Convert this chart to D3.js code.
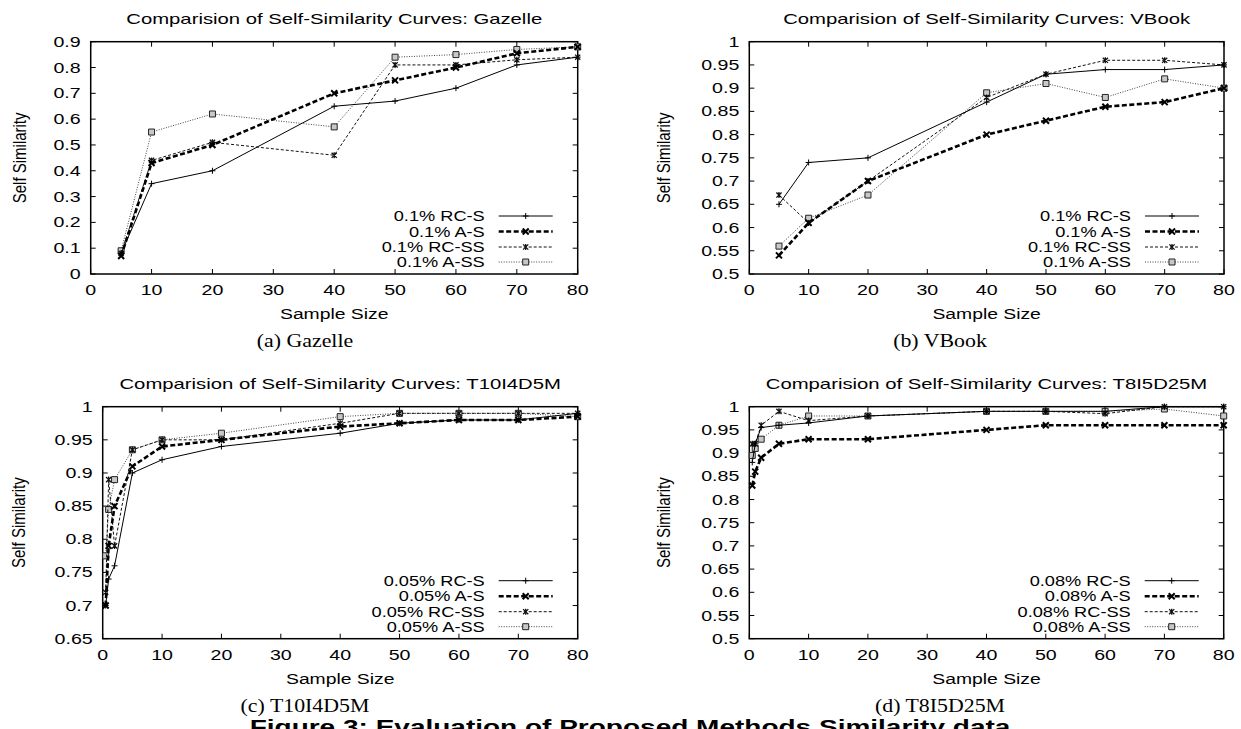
<!DOCTYPE html>
<html>
<head>
<meta charset="utf-8">
<script src="https://cdn.jsdelivr.net/npm/d3@7"></script>
<style>
    body { margin: 0; background: #fff; }
    svg { display: block; }
</style>
</head>
<body>
<div id="chart"></div>
<script>
// ---------- data ----------
const sampleTicks = [0, 10, 20, 30, 40, 50, 60, 70, 80];

const gazelleSize = [5, 10, 20, 40, 50, 60, 70, 80];
const gazelleRCS  = [0.08, 0.35, 0.40, 0.65, 0.67, 0.72, 0.81, 0.84];
const gazelleAS   = [0.07, 0.43, 0.50, 0.70, 0.75, 0.80, 0.855, 0.88];
const gazelleRCSS = [0.08, 0.44, 0.51, 0.46, 0.81, 0.81, 0.83, 0.84];
const gazelleASS  = [0.09, 0.55, 0.62, 0.57, 0.84, 0.85, 0.87, 0.88];
const gazelleYTicks = [0, 0.1, 0.2, 0.3, 0.4, 0.5, 0.6, 0.7, 0.8, 0.9];

const vbookSize = [5, 10, 20, 40, 50, 60, 70, 80];
const vbookRCS  = [0.65, 0.74, 0.75, 0.87, 0.93, 0.94, 0.94, 0.95];
const vbookAS   = [0.54, 0.61, 0.70, 0.80, 0.83, 0.86, 0.87, 0.90];
const vbookRCSS = [0.67, 0.61, 0.70, 0.88, 0.93, 0.96, 0.96, 0.95];
const vbookASS  = [0.56, 0.62, 0.67, 0.89, 0.91, 0.88, 0.92, 0.90];
const vbookYTicks = [0.5, 0.55, 0.6, 0.65, 0.7, 0.75, 0.8, 0.85, 0.9, 0.95, 1];

const t10Size = [0.5, 1, 2, 5, 10, 20, 40, 50, 60, 70, 80];
const t10RCS  = [0.70, 0.74, 0.76, 0.90, 0.92, 0.94, 0.96, 0.975, 0.98, 0.98, 0.99];
const t10AS   = [0.70, 0.79, 0.85, 0.91, 0.94, 0.95, 0.97, 0.975, 0.98, 0.98, 0.985];
const t10RCSS = [0.72, 0.89, 0.79, 0.935, 0.95, 0.95, 0.975, 0.99, 0.99, 0.99, 0.99];
const t10ASS  = [0.775, 0.845, 0.89, 0.935, 0.95, 0.96, 0.985, 0.99, 0.99, 0.99, 0.985];
const t10YTicks = [0.65, 0.7, 0.75, 0.8, 0.85, 0.9, 0.95, 1];

const t8Size = [0.5, 1, 2, 5, 10, 20, 40, 50, 60, 70, 80];
const t8RCS  = [0.88, 0.92, 0.955, 0.96, 0.965, 0.98, 0.99, 0.99, 0.99, 1.0, 1.0];
const t8AS   = [0.83, 0.86, 0.89, 0.92, 0.93, 0.93, 0.95, 0.96, 0.96, 0.96, 0.96];
const t8RCSS = [0.92, 0.92, 0.96, 0.99, 0.97, 0.98, 0.99, 0.99, 0.985, 1.0, 1.0];
const t8ASS  = [0.895, 0.91, 0.93, 0.96, 0.98, 0.98, 0.99, 0.99, 0.99, 0.995, 0.98];
const t8YTicks = [0.5, 0.55, 0.6, 0.65, 0.7, 0.75, 0.8, 0.85, 0.9, 0.95, 1];

const seriesNames = ["RC-S", "A-S", "RC-SS", "A-SS"];

// ---------- layout ----------
const width = 1241, height = 729;
const gnuFont = "'Liberation Sans', Arial, Helvetica, sans-serif";
const serifFont = "'Liberation Serif', 'Times New Roman', serif";

const panels = [
    { title: "Comparision of Self-Similarity Curves: Gazelle", caption: "(a) Gazelle", pct: "0.1%",
      size: gazelleSize, series: [gazelleRCS, gazelleAS, gazelleRCSS, gazelleASS], yTicks: gazelleYTicks,
      left: 90.7, right: 577.7, top: 41.7, bottom: 274, ylabX: 26, capX: 305 },
    { title: "Comparision of Self-Similarity Curves: VBook", caption: "(b) VBook", pct: "0.1%",
      size: vbookSize, series: [vbookRCS, vbookAS, vbookRCSS, vbookASS], yTicks: vbookYTicks,
      left: 749.3, right: 1224, top: 41.7, bottom: 274, ylabX: 670, capX: 940 },
    { title: "Comparision of Self-Similarity Curves: T10I4D5M", caption: "(c) T10I4D5M", pct: "0.05%",
      size: t10Size, series: [t10RCS, t10AS, t10RCSS, t10ASS], yTicks: t10YTicks,
      left: 102.7, right: 577.7, top: 406.7, bottom: 638.7, ylabX: 25, capX: 305 },
    { title: "Comparision of Self-Similarity Curves: T8I5D25M", caption: "(d) T8I5D25M", pct: "0.08%",
      size: t8Size, series: [t8RCS, t8AS, t8RCSS, t8ASS], yTicks: t8YTicks,
      left: 749.3, right: 1223.7, top: 406.7, bottom: 638.7, ylabX: 670, capX: 940 }
];

// line / point style per series (same order as seriesNames)
const styles = [
    { width: 1.0, dash: null,      color: "#000", marker: "plus" },
    { width: 2.6, dash: "5,2.5",   color: "#000", marker: "cross" },
    { width: 1.0, dash: "3,2",     color: "#111", marker: "star" },
    { width: 1.0, dash: "1,1.5",   color: "#444", marker: "box" }
];
const drawOrder = [3, 2, 0, 1];

const svg = d3.select("#chart")
    .append("svg")
    .attr("width", width)
    .attr("height", height);

// text stretched horizontally, like the gnuplot output
function stretchText(g, x, y, str, size, sx, anchor) {
    return g.append("text")
        .attr("transform", "translate(" + x + "," + y + ") scale(" + sx + ",1)")
        .attr("text-anchor", anchor)
        .style("font-family", gnuFont)
        .style("font-size", size + "px")
        .style("fill", "#000")
        .text(str);
}

function markerPath(type, x, y) {
    var s = 3;
    if (type == "plus") {
        return "M" + (x - s) + "," + y + "H" + (x + s) + "M" + x + "," + (y - s) + "V" + (y + s);
    }
    if (type == "cross") {
        return "M" + (x - s) + "," + (y - s) + "L" + (x + s) + "," + (y + s) +
            "M" + (x - s) + "," + (y + s) + "L" + (x + s) + "," + (y - s);
    }
    if (type == "star") {
        var t = 2.6;
        return "M" + (x - t) + "," + (y - t) + "L" + (x + t) + "," + (y + t) +
            "M" + (x - t) + "," + (y + t) + "L" + (x + t) + "," + (y - t) +
            "M" + x + "," + (y - s) + "V" + (y + s);
    }
    return "M" + (x - 3) + "," + (y - 3) + "h6v6h-6z";
}

function drawMarker(g, type, x, y, st) {
    g.append("path")
        .attr("d", markerPath(type, x, y))
        .attr("fill", type == "box" ? "#c8c8c8" : "none")
        .attr("stroke", type == "box" ? "#222" : st.color)
        .attr("stroke-width", type == "cross" ? 2 : (type == "star" ? 1.3 : 1));
}

const fmt = function (d) { return String(+d.toFixed(2)); };

panels.forEach(function (p) {
    var g = svg.append("g");

    var x = d3.scaleLinear().domain([0, 80]).range([p.left, p.right]);
    var y = d3.scaleLinear()
        .domain([p.yTicks[0], p.yTicks[p.yTicks.length - 1]])
        .range([p.bottom, p.top]);

    // inward ticks on all four sides
    var tickLen = 5;
    var axisG = g.append("g").attr("stroke", "#000").attr("stroke-width", 1);
    sampleTicks.forEach(function (t) {
        axisG.append("line").attr("x1", x(t)).attr("x2", x(t))
            .attr("y1", p.bottom).attr("y2", p.bottom - tickLen);
        axisG.append("line").attr("x1", x(t)).attr("x2", x(t))
            .attr("y1", p.top).attr("y2", p.top + tickLen);
    });
    p.yTicks.forEach(function (t) {
        axisG.append("line").attr("x1", p.left).attr("x2", p.left + tickLen)
            .attr("y1", y(t)).attr("y2", y(t));
        axisG.append("line").attr("x1", p.right).attr("x2", p.right - tickLen)
            .attr("y1", y(t)).attr("y2", y(t));
    });

    // frame
    g.append("rect")
        .attr("x", p.left).attr("y", p.top)
        .attr("width", p.right - p.left).attr("height", p.bottom - p.top)
        .attr("fill", "none").attr("stroke", "#000").attr("stroke-width", 1.5);

    // tick labels
    sampleTicks.forEach(function (t) {
        stretchText(g, x(t), p.bottom + 21, fmt(t), 14, 1.4, "middle");
    });
    p.yTicks.forEach(function (t) {
        stretchText(g, p.left - 10, y(t) + 5, fmt(t), 14, 1.4, "end");
    });

    // titles and labels
    stretchText(g, (p.left + p.right) / 2, p.top - 18, p.title, 14, 1.45, "middle");
    stretchText(g, (p.left + p.right) / 2, p.bottom + 45, "Sample Size", 14, 1.38, "middle");
    g.append("text")
        .attr("transform", "translate(" + p.ylabX + "," + ((p.top + p.bottom) / 2) + ") scale(1.2,1) rotate(-90)")
        .attr("text-anchor", "middle")
        .style("font-family", gnuFont)
        .style("font-size", "15px")
        .text("Self Similarity");

    g.append("text")
        .attr("transform", "translate(" + p.capX + "," + (p.bottom + 73) + ") scale(1.15,1)")
        .attr("text-anchor", "middle")
        .style("font-family", serifFont)
        .style("font-size", "19px")
        .text(p.caption);

    // series
    drawOrder.forEach(function (k) {
        var st = styles[k];
        var pts = p.size.map(function (s, i) { return [s, p.series[k][i]]; });
        var line = d3.line()
            .x(function (d) { return x(d[0]); })
            .y(function (d) { return y(d[1]); });
        g.append("path")
            .datum(pts)
            .attr("d", line)
            .attr("fill", "none")
            .attr("stroke", st.color)
            .attr("stroke-width", st.width)
            .attr("stroke-dasharray", st.dash);
        pts.forEach(function (d) {
            drawMarker(g, st.marker, x(d[0]), y(d[1]), st);
        });
    });

    // legend, bottom right inside the frame
    var rowOffsets = [58, 42.5, 27, 12];
    seriesNames.forEach(function (name, k) {
        var st = styles[k];
        var cy = p.bottom - rowOffsets[k];
        stretchText(g, p.right - 93, cy + 5, p.pct + " " + name, 14, 1.3, "end");
        g.append("line")
            .attr("x1", p.right - 79).attr("x2", p.right - 25)
            .attr("y1", cy).attr("y2", cy)
            .attr("stroke", st.color)
            .attr("stroke-width", st.width)
            .attr("stroke-dasharray", st.dash);
        drawMarker(g, st.marker, p.right - 52, cy, st);
    });
});

// figure caption, cut by the bottom edge as in the source page
svg.append("text")
    .attr("transform", "translate(630,734) scale(1.4,1)")
    .attr("text-anchor", "middle")
    .style("font-family", gnuFont)
    .style("font-size", "20px")
    .style("font-weight", "bold")
    .text("Figure 3: Evaluation of Proposed Methods Similarity data");
</script>
</body>
</html>
